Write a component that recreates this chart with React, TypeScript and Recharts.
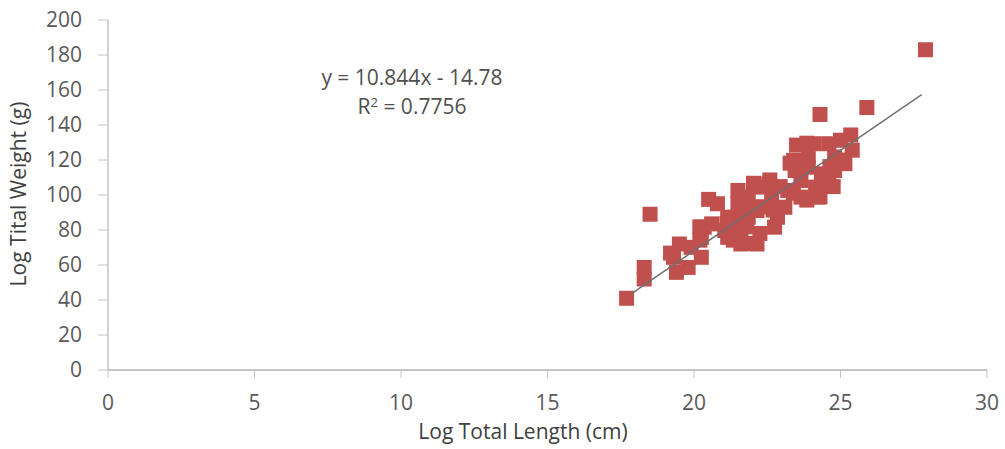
import React from 'react';
import { ScatterChart, Scatter, XAxis, YAxis } from 'recharts';

const lengthCm: number[] = [
  27.9, 25.9, 24.3, 18.5, 17.7, 18.3, 18.3, 20.5, 20.8, 19.5,
  19.3, 19.4, 19.8, 20.25, 20.35, 20.25, 20.6, 21.15, 21.6, 22.15,
  21.6, 21.05, 21.5, 21.5, 21.85, 22.15, 22.55, 22.65, 22.85, 22.75,
  22.15, 21.4, 23.45, 23.9, 23.2, 23.65, 24.25, 24.6, 24.35, 23.65,
  23.5, 24.1, 24.6, 25.0, 25.35, 25.4, 24.8, 25.15, 23.9, 23.4,
  21.85, 21.15, 23.1, 24.15, 24.8, 19.9, 23.85, 24.98, 24.64, 24.41,
  24.75, 24.3, 23.85, 23.39, 23.28, 23.62, 22.03, 22.59, 22.94, 21.68,
  22.25, 22.7, 21.8, 22.25, 21.34, 21.91, 21.12, 20.2, 20.2, 19.2,
];
const weightG: number[] = [
  183, 150, 146, 89, 41, 58.6, 52, 97.5, 95, 72,
  64.4, 55.8, 58.6, 64.4, 81.6, 75.8, 83.5, 75.8, 72, 72,
  79.7, 79.7, 102.6, 95, 87.3, 104.5, 106.4, 98.8, 87.3, 81.6,
  91.1, 87.3, 114, 115.9, 102.6, 98.8, 98.8, 106.4, 112.1, 108.3,
  128.5, 129.3, 129.3, 131.3, 134.3, 125.6, 121.7, 117.9, 121.7, 119.8,
  98.8, 87.3, 93, 104.5, 114, 70.1, 129.6, 120, 116.2, 110.5,
  104.8, 99, 97.1, 101, 118.2, 114.3, 106.7, 108.6, 104.8, 91.4,
  93.3, 91.4, 81.8, 78, 74.2, 72.3, 83.8, 81.8, 74.2, 66.8,
];

// linear trendline end points as drawn in the source
const trendX: number[] = [17.87, 27.77];
const trendY: number[] = [43.7, 157.3];

const xTicks = [0, 5, 10, 15, 20, 25, 30];
const yTicks = [0, 20, 40, 60, 80, 100, 120, 140, 160, 180, 200];

const points = lengthCm.map((x, i) => ({ x, y: weightG[i] }));
const trend = trendX.map((x, i) => ({ x, y: trendY[i] }));

const font = '"Open Sans", Lato, sans-serif';
const axisColor = '#c4c4c4';
const tickStyle = { fill: '#595959', fontSize: 21, fontFamily: font };

const Square = (props: any) => {
  const { cx, cy } = props;
  if (cx == null || cy == null) return null;
  return <rect x={cx - 7.5} y={cy - 7.5} width={15} height={15} fill="#c0504d" />;
};

const titleStyle: React.CSSProperties = {
  position: 'absolute',
  fontFamily: font,
  fontSize: 21,
  color: '#404040',
  whiteSpace: 'nowrap',
  textAlign: 'center',
  lineHeight: '24px',
};

export default function App() {
  return (
    <div style={{ position: 'absolute', left: 0, top: 0, width: 1005, height: 449, background: '#fff' }}>
      <ScatterChart
        width={1005}
        height={449}
        margin={{ top: 20, right: 18, left: 8, bottom: 0 }}
      >
        <XAxis
          type="number"
          dataKey="x"
          domain={[0, 30]}
          ticks={xTicks}
          stroke={axisColor}
          strokeWidth={2}
          tickLine={{ stroke: axisColor, strokeWidth: 1 }}
          tickSize={8}
          tickMargin={17}
          tick={tickStyle}
          height={79}
        />
        <YAxis
          type="number"
          dataKey="y"
          domain={[0, 200]}
          ticks={yTicks}
          stroke={axisColor}
          strokeWidth={1.5}
          tickLine={{ stroke: axisColor, strokeWidth: 1 }}
          tickSize={10}
          tickMargin={16}
          tick={tickStyle}
          width={100}
        />
        <Scatter data={points} shape={<Square />} isAnimationActive={false} />
        <Scatter
          data={trend}
          line={{ stroke: '#6f6f6f', strokeWidth: 1.5 }}
          shape={() => <g />}
          isAnimationActive={false}
        />
      </ScatterChart>
      <div style={{ ...titleStyle, left: 373, top: 419, width: 300 }}>Log Total Length (cm)</div>
      <div
        style={{
          ...titleStyle,
          left: 18 - 150,
          top: 194 - 12,
          width: 300,
          transform: 'rotate(-90deg)',
        }}
      >
        Log Tital Weight (g)
      </div>
      <div
        style={{
          position: 'absolute',
          left: 262,
          top: 63,
          width: 300,
          textAlign: 'center',
          fontFamily: font,
          fontSize: 21,
          color: '#505050',
          lineHeight: '29px',
        }}
      >
        <div>y = 10.844x - 14.78</div>
        <div>
          R<sup style={{ fontSize: 13, verticalAlign: 'top', lineHeight: '20px' }}>2</sup> = 0.7756
        </div>
      </div>
    </div>
  );
}
